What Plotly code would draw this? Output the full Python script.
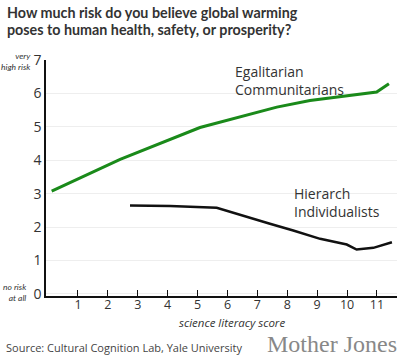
import plotly.graph_objects as go

# Data
ega_x = [0.12, 2.41, 5.08, 5.75, 6.53, 7.65, 8.76, 9.88, 10.99, 11.4]
ega_y = [3.08, 4.03, 4.98, 5.14, 5.34, 5.59, 5.79, 5.92, 6.04, 6.29]
hie_x = [2.74, 4.08, 5.64, 6.65, 7.42, 8.2, 9.1, 9.99, 10.32, 10.88, 11.5]
hie_y = [2.65, 2.63, 2.58, 2.30, 2.10, 1.90, 1.65, 1.48, 1.33, 1.38, 1.55]
x_ticks = list(range(1, 12))
y_ticks = list(range(0, 8))

W, H = 400, 361
L, R, T, B = 46, 3, 60, 65
PW, PH = W - L - R, H - T - B

def px(xp):
    return (xp - L) / PW

def py(yp):
    return (H - B - yp) / PH

fig = go.Figure()
fig.add_trace(go.Scatter(x=ega_x, y=ega_y, mode="lines",
                         line=dict(color="#1a8a1a", width=3), hoverinfo="skip"))
fig.add_trace(go.Scatter(x=hie_x, y=hie_y, mode="lines",
                         line=dict(color="#111111", width=2.5), hoverinfo="skip"))

font = "Open Sans, Noto Sans, sans-serif"
lato = "Lato, Open Sans, sans-serif"
txt = "#333333"

ann = [
    dict(x=px(5), y=py(12), xref="paper", yref="paper", xanchor="left", yanchor="middle",
         text="<b>How much risk do you believe global warming</b>", showarrow=False,
         font=dict(family=lato, size=14.3, color="#333333")),
    dict(x=px(5), y=py(30), xref="paper", yref="paper", xanchor="left", yanchor="middle",
         text="<b>poses to human health, safety, or prosperity?</b>", showarrow=False,
         font=dict(family=lato, size=14.3, color="#333333")),
    dict(x=px(233), y=py(80), xref="paper", yref="paper", xanchor="left", yanchor="middle",
         text="Egalitarian<br>Communitarians", showarrow=False, align="left",
         font=dict(family=font, size=14, color=txt)),
    dict(x=px(292), y=py(202), xref="paper", yref="paper", xanchor="left", yanchor="middle",
         text="Hierarch<br>Individualists", showarrow=False, align="left",
         font=dict(family=font, size=14, color=txt)),
    dict(x=px(33), y=py(62), xref="paper", yref="paper", xanchor="right", yanchor="middle",
         text="<i>very<br>high risk</i>", showarrow=False, align="right",
         font=dict(family=lato, size=8.5, color=txt)),
    dict(x=px(29), y=py(292), xref="paper", yref="paper", xanchor="right", yanchor="middle",
         text="<i>no risk<br>at all</i>", showarrow=False, align="right",
         font=dict(family=lato, size=8.5, color=txt)),
    dict(x=px(232), y=py(322), xref="paper", yref="paper", xanchor="center", yanchor="middle",
         text="<i>science literacy score</i>", showarrow=False,
         font=dict(family=font, size=11.5, color=txt)),
    dict(x=px(4), y=py(347), xref="paper", yref="paper", xanchor="left", yanchor="middle",
         text="Source: Cultural Cognition Lab, Yale University", showarrow=False,
         font=dict(family=font, size=11, color="#444444")),
    dict(x=px(399), y=py(344), xref="paper", yref="paper", xanchor="right", yanchor="middle",
         text="Mother Jones", showarrow=False,
         font=dict(family="Liberation Serif, DejaVu Serif, serif", size=24, color="#888888")),
]

fig.update_layout(
    width=W, height=H,
    margin=dict(l=L, r=R, t=T, b=B),
    paper_bgcolor="white", plot_bgcolor="white",
    showlegend=False,
    xaxis=dict(range=[-0.07, 11.67], tickmode="array", tickvals=x_ticks,
               ticktext=[str(v) for v in x_ticks],
               showgrid=False, zeroline=False, showline=True, linecolor="#111111", linewidth=1.5,
               ticks="inside", ticklen=6, tickcolor="#111111", ticklabelstandoff=-4,
               tickfont=dict(family=font, size=12.5, color=txt)),
    yaxis=dict(range=[-0.06, 7.0], tickmode="array", tickvals=y_ticks,
               ticktext=[str(v) for v in y_ticks],
               showgrid=True, gridcolor="#eeeeee", gridwidth=1, zeroline=False,
               showline=True, linecolor="#111111", linewidth=1.5,
               ticks="", tickfont=dict(family=font, size=14, color=txt)),
    annotations=ann,
)

fig.write_html("out.html", config={"displayModeBar": False},
               post_script="document.body.style.margin='0';document.body.style.overflow='hidden';")
